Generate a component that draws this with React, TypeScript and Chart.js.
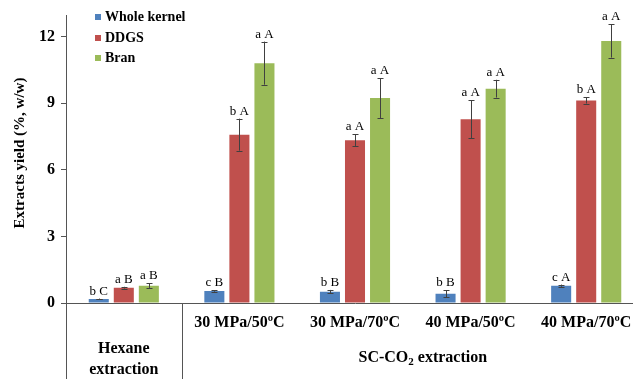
import React, { useEffect, useRef } from "react";
import { Chart, registerables } from "chart.js";

Chart.register(...registerables);

const categories = ["Hexane extraction", "30 MPa/50ºC", "30 MPa/70ºC", "40 MPa/50ºC", "40 MPa/70ºC"];
const seriesNames = ["Whole kernel", "DDGS", "Bran"];
const wholeKernel = [0.18, 0.54, 0.51, 0.42, 0.78];
const ddgs = [0.69, 7.58, 7.33, 8.27, 9.12];
const bran = [0.78, 10.8, 9.23, 9.65, 11.8];
const wholeKernelErr = [0.02, 0.03, 0.08, 0.15, 0.05];
const ddgsErr = [0.04, 0.72, 0.26, 0.85, 0.14];
const branErr = [0.1, 0.97, 0.9, 0.4, 0.75];
const wholeKernelLetters = ["b C", "c B", "b B", "b B", "c A"];
const ddgsLetters = ["a B", "b A", "a A", "a A", "b A"];
const branLetters = ["a B", "a A", "a A", "a A", "a A"];
const yTicks = [0, 3, 6, 9, 12];
const colors = ["#4F81BD", "#C0504D", "#9BBB59"];

const errs = [wholeKernelErr, ddgsErr, branErr];
const letters = [wholeKernelLetters, ddgsLetters, branLetters];

const SERIF = '"Liberation Serif", "Times New Roman", serif';

const overlay = {
  id: "overlay",
  afterDatasetsDraw(chart: any) {
    const ctx = chart.ctx;
    const y = chart.scales.y;
    ctx.save();
    // error bars and letters
    chart.data.datasets.forEach((ds: any, di: number) => {
      const meta = chart.getDatasetMeta(di);
      meta.data.forEach((el: any, i: number) => {
        const v = ds.data[i];
        const e = errs[di][i];
        const yt = y.getPixelForValue(v + e);
        const yb = y.getPixelForValue(v - e);
        ctx.strokeStyle = "#404040";
        ctx.lineWidth = 1;
        ctx.beginPath();
        const x = Math.round(el.x) + 0.5;
        ctx.moveTo(x, yt);
        ctx.lineTo(x, yb);
        ctx.moveTo(x - 3, Math.round(yt) + 0.5);
        ctx.lineTo(x + 3, Math.round(yt) + 0.5);
        ctx.moveTo(x - 3, Math.round(yb) + 0.5);
        ctx.lineTo(x + 3, Math.round(yb) + 0.5);
        ctx.stroke();
        ctx.fillStyle = "#000";
        ctx.font = "13px " + SERIF;
        ctx.textAlign = "center";
        ctx.textBaseline = "alphabetic";
        ctx.fillText(letters[di][i], el.x, yt - 4);
      });
    });
    ctx.restore();
  },
  afterDraw(chart: any) {
    const ctx = chart.ctx;
    const area = chart.chartArea;
    const xs = chart.scales.x;
    const catW = (area.right - area.left) / categories.length;
    ctx.save();
    // extra axis lines below
    ctx.strokeStyle = "#555";
    ctx.lineWidth = 1;
    ctx.beginPath();
    const lx = Math.round(area.left) + 0.5;
    ctx.moveTo(lx, area.bottom);
    ctx.lineTo(lx, chart.height);
    const dx = Math.round(area.left + catW) + 0.5;
    ctx.moveTo(dx, area.bottom);
    ctx.lineTo(dx, chart.height);
    ctx.stroke();

    // category labels
    ctx.fillStyle = "#000";
    ctx.font = "bold 16px " + SERIF;
    ctx.textAlign = "center";
    ctx.textBaseline = "middle";
    for (let i = 1; i < categories.length; i++) {
      ctx.fillText(categories[i], xs.getPixelForValue(i), area.bottom + 20);
    }
    const hx = xs.getPixelForValue(0);
    const parts = categories[0].split(" ");
    ctx.fillText(parts[0], hx, area.bottom + 46);
    ctx.fillText(parts[1], hx, area.bottom + 67);

    // SC-CO2 extraction
    const cx = (area.left + catW + area.right) / 2 + 10;
    const cy = area.bottom + 55;
    const a = "SC-CO";
    const b = "2";
    const c = " extraction";
    ctx.font = "bold 16px " + SERIF;
    const wa = ctx.measureText(a).width;
    const wc = ctx.measureText(c).width;
    ctx.font = "bold 11px " + SERIF;
    const wb = ctx.measureText(b).width;
    const total = wa + wb + wc;
    let sx = cx - total / 2;
    ctx.textAlign = "left";
    ctx.font = "bold 16px " + SERIF;
    ctx.fillText(a, sx, cy);
    ctx.font = "bold 11px " + SERIF;
    ctx.fillText(b, sx + wa, cy + 4);
    ctx.font = "bold 16px " + SERIF;
    ctx.fillText(c, sx + wa + wb, cy);

    // y title
    ctx.save();
    ctx.translate(20, 153);
    ctx.rotate(-Math.PI / 2);
    ctx.textAlign = "center";
    ctx.textBaseline = "middle";
    ctx.font = "bold 15px " + SERIF;
    ctx.fillText("Extracts yield (%, w/w)", 0, 0);
    ctx.restore();

    // legend
    ctx.font = "bold 14px " + SERIF;
    ctx.textAlign = "left";
    ctx.textBaseline = "middle";
    const rows = [17, 38, 58];
    seriesNames.forEach((n, i) => {
      ctx.fillStyle = colors[i];
      ctx.fillRect(95, rows[i] - 3, 6, 6);
      ctx.fillStyle = "#000";
      ctx.fillText(n, 105, rows[i]);
    });
    ctx.restore();
  },
};

export default function App() {
  const ref = useRef<HTMLCanvasElement>(null);
  useEffect(() => {
    if (!ref.current) return;
    const datasets = [wholeKernel, ddgs, bran].map((d, i) => ({
      label: seriesNames[i],
      data: d,
      backgroundColor: colors[i],
      borderWidth: 0,
      barPercentage: 0.8,
      categoryPercentage: 0.65,
    }));
    const chart = new Chart(ref.current, {
      type: "bar",
      data: { labels: categories, datasets },
      options: {
        responsive: false,
        animation: false,
        devicePixelRatio: 1,
        layout: { padding: { top: 15, right: 56, bottom: 0, left: 0 } },
        plugins: { legend: { display: false }, tooltip: { enabled: false } },
        scales: {
          x: {
            grid: { display: false },
            ticks: { display: false },
            border: { display: true, color: "#555" },
            afterFit(scale: any) {
              scale.height = 76;
            },
          },
          y: {
            min: 0,
            max: 12.94,
            afterBuildTicks(scale: any) {
              scale.ticks = yTicks.map((v) => ({ value: v }));
            },
            grid: { drawOnChartArea: false, tickLength: 5, color: "#555" },
            border: { display: true, color: "#555" },
            ticks: {
              color: "#000",
              font: { family: SERIF, size: 16, weight: "bold" },
              padding: 6,
            },
            afterFit(scale: any) {
              scale.width = 66;
            },
          },
        },
      } as any,
      plugins: [overlay],
    });
    return () => chart.destroy();
  }, []);
  return (
    <div
      style={{
        position: "fixed",
        left: 0,
        top: 0,
        width: 633,
        height: 379,
        overflow: "hidden",
        background: "#fff",
      }}
    >
      <canvas ref={ref} width={700} height={379} style={{ display: "block" }} />
    </div>
  );
}
